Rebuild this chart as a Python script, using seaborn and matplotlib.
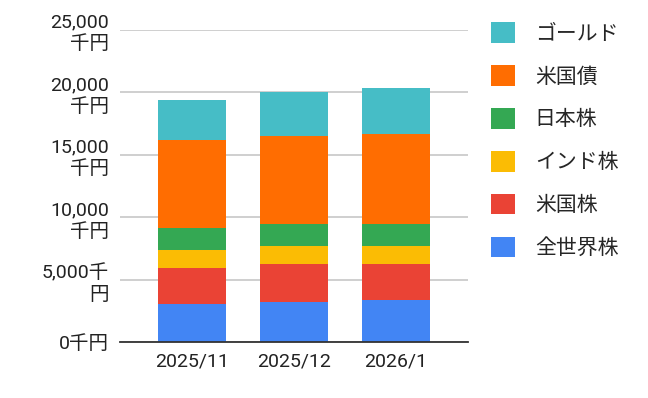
import numpy as np
import pandas as pd
import seaborn as sns
import matplotlib.pyplot as plt
from matplotlib.patches import Patch

months = ["2025/11", "2025/12", "2026/1"]
# stack order from bottom to top (values in 千円)
assets = ["全世界株", "米国株", "インド株", "日本株", "米国債", "ゴールド"]
zenshekai = [3090, 3250, 3400]
beikoku = [2880, 3040, 2880]
india = [1440, 1440, 1440]
nihon = [1760, 1740, 1740]
beikokusai = [7030, 7050, 7230]
gold = [3200, 3520, 3660]
colors = ["#4285F4", "#EA4335", "#FBBC04", "#34A853", "#FF6D01", "#46BDC6"]
yticks = [0, 5000, 10000, 15000, 20000, 25000]
ylabels = ["0千円", "5,000千\n円", "10,000\n千円", "15,000\n千円", "20,000\n千円", "25,000\n千円"]

sns.set_style("white")
plt.rcParams["font.family"] = ["Roboto", "Noto Sans CJK JP", "DejaVu Sans"]

values = np.array([zenshekai, beikoku, india, nihon, beikokusai, gold])
cum = values.cumsum(axis=0)

fig = plt.figure(figsize=(6.48, 3.98), dpi=100)
ax = fig.add_axes([0.185, 0.140, 0.537, 0.785])

# draw cumulative totals from top down so each layer covers the one beneath
for i in range(len(assets) - 1, -1, -1):
    df = pd.DataFrame({"month": months, "total": cum[i]})
    sns.barplot(data=df, x="month", y="total", color=colors[i], width=0.667,
                saturation=1, linewidth=0, ax=ax, zorder=2)

ax.set_xlim(-0.706, 2.706)
ax.set_ylim(0, 25000)
ax.set_yticks(yticks)
ax.set_yticklabels(ylabels, fontsize=14, multialignment="right", linespacing=1.25)
ax.tick_params(axis="both", length=0, colors="#222222")
ax.tick_params(axis="y", pad=8)
ax.tick_params(axis="x", pad=7, labelsize=14)
ax.set_xlabel("")
ax.set_ylabel("")
ax.grid(axis="y", color="#cccccc", linewidth=1.3, zorder=0)
ax.set_axisbelow(True)
for s in ["top", "right", "left"]:
    ax.spines[s].set_visible(False)
ax.spines["bottom"].set_color("#333333")
ax.spines["bottom"].set_linewidth(1.3)

handles = [Patch(facecolor=colors[i], edgecolor="none") for i in range(len(assets) - 1, -1, -1)]
labels = assets[::-1]
fig.legend(handles, labels, loc="upper left", bbox_to_anchor=(0.745, 0.965),
           frameon=False, fontsize=15, handlelength=1.15, handleheight=1.15,
           handletextpad=0.95, labelspacing=1.03, borderaxespad=0)

fig.savefig("out.png", dpi=100)
